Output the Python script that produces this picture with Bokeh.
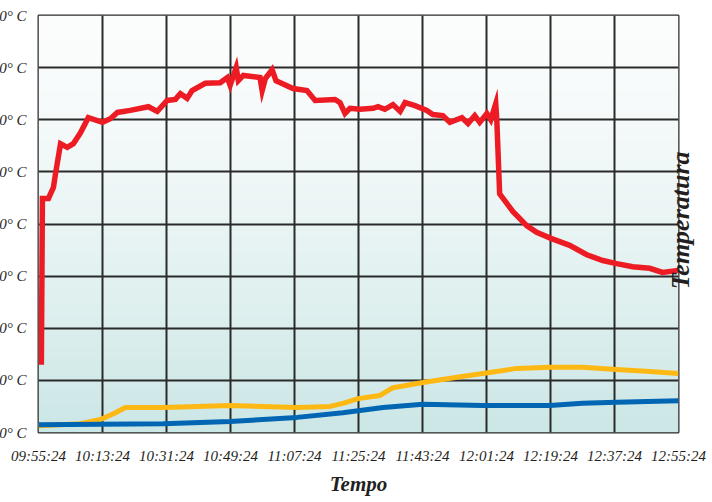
import numpy as np
from bokeh.plotting import figure
from bokeh.models import Range1d, FixedTicker, LinearAxis
from bokeh.embed import file_html
from bokeh.resources import INLINE

# ---- data (minutes after 09:55:24, temperature in °C) ----
x_tick_minutes = [0, 18, 36, 54, 72, 90, 108, 126, 144, 162, 180]
x_tick_labels = ["09:55:24", "10:13:24", "10:31:24", "10:49:24", "11:07:24", "11:25:24",
                 "11:43:24", "12:01:24", "12:19:24", "12:37:24", "12:55:24"]
y_ticks = [0, 100, 200, 300, 400, 500, 600, 700, 800]
y_tick_labels = ["0° C", "100° C", "200° C", "300° C", "400° C", "500° C", "600° C", "700° C", "800° C"]

red_t = [0.8, 1.1, 2.8, 4.2, 4.8, 6.2, 8.1, 9.8, 11.8, 14.0, 18.0, 20.2, 22.2, 25.8, 30.9, 33.4,
         36.2, 38.5, 39.9, 41.8, 43.2, 46.9, 51.1, 53.1, 53.9, 55.6, 56.2, 57.6, 62.3, 62.9, 63.8,
         65.7, 66.8, 71.6, 75.5, 77.8, 83.4, 84.8, 86.2, 87.6, 90.4, 94.1, 95.5, 97.4, 99.7, 101.7,
         103.1, 105.9, 109.2, 110.9, 113.7, 115.7, 119.1, 120.8, 122.7, 124.1, 126.1, 127.2, 128.6,
         128.9, 129.7, 133.4, 137.3, 140.1, 144.3, 149.4, 154.2, 158.7, 162.6, 167.1, 171.9, 175.5,
         180.0]
red_v = [130, 449, 449, 470, 497, 554, 547, 554, 575, 604, 595, 602, 614, 618, 625, 616,
         637, 639, 650, 641, 656, 670, 671, 681, 666, 700, 675, 685, 681, 656, 679,
         696, 675, 660, 656, 637, 639, 633, 612, 622, 620, 622, 625, 620, 629, 616,
         633, 627, 618, 610, 608, 595, 604, 593, 608, 595, 612, 600, 631,
         599, 458, 424, 397, 384, 372, 359, 341, 330, 324, 318, 315, 307,
         311]

orange_t = [0, 11.8, 17.4, 21.1, 24.4, 35.1, 53.9, 72.7, 82.0, 85.6, 89.9, 96.0, 99.7, 108.1,
            117.7, 126.9, 134.5, 143.8, 153.0, 162.6, 171.9, 180.0]
orange_v = [13, 17, 25, 36, 48, 48, 52, 48, 50, 56, 65, 71, 86, 96,
            106, 115, 123, 125, 125, 121, 117, 113]

blue_t = [0, 35.1, 53.9, 72.7, 85.6, 96.9, 108.1, 125.0, 143.8, 153.0, 162.6, 180.0]
blue_v = [15, 17, 21, 29, 38, 48, 54, 52, 52, 56, 58, 61]

FONT = "Liberation Serif"
INK = "#231f20"
GRID = "#2a2a2a"

p = figure(width=754, height=500,
           x_range=Range1d(0, 180), y_range=Range1d(0, 800),
           output_backend="svg", toolbar_location=None,
           min_border_left=80, min_border_right=33, min_border_top=15, min_border_bottom=68)
p.styles = {"margin-left": "-42px"}
p.background_fill_color = None
p.border_fill_color = "white"

# vertical gradient background (white at top -> pale teal at bottom)
n = 240
img = np.empty((n, 1), dtype=np.uint32)
view = img.view(dtype=np.uint8).reshape((n, 1, 4))
top_c = np.array([252, 253, 253])
bot_c = np.array([203, 231, 230])
for i in range(n):
    f = (1 - i / (n - 1)) ** 1.4  # row 0 is the bottom
    c = top_c + (bot_c - top_c) * f
    view[i, 0, 0:3] = c.astype(np.uint8)
    view[i, 0, 3] = 255
bg = p.image_rgba(image=[img], x=0, y=0, dw=180, dh=800)
bg.level = "image"

# grid
p.xgrid.ticker = FixedTicker(ticks=x_tick_minutes)
p.ygrid.ticker = FixedTicker(ticks=y_ticks)
for g in (p.xgrid, p.ygrid):
    g.grid_line_color = GRID
    g.grid_line_width = 2
    g.grid_line_alpha = 1
p.outline_line_color = GRID
p.outline_line_width = 2

# axes
p.xaxis.ticker = FixedTicker(ticks=x_tick_minutes)
p.xaxis.major_label_overrides = {t: l for t, l in zip(x_tick_minutes, x_tick_labels)}
p.yaxis.ticker = FixedTicker(ticks=y_ticks)
p.yaxis.major_label_overrides = {t: l for t, l in zip(y_ticks, y_tick_labels)}

# right-hand axis carrying the rotated "Temperatura" title as its single label
TITLE_ANCHOR = 275
right_axis = LinearAxis(ticker=FixedTicker(ticks=[TITLE_ANCHOR]),
                        major_label_overrides={TITLE_ANCHOR: "Temperatura"})
p.add_layout(right_axis, "right")

for ax in (p.xaxis[0], p.yaxis[0], right_axis):
    ax.axis_line_color = None
    ax.major_tick_line_color = None
    ax.minor_tick_line_color = None
    ax.major_tick_out = 0
    ax.major_tick_in = 0
    ax.major_label_text_font = FONT
    ax.major_label_text_font_style = "italic"
    ax.major_label_text_font_size = "15px"
    ax.major_label_text_color = INK
    ax.axis_label_text_font = FONT
    ax.axis_label_text_font_style = "bold italic"
    ax.axis_label_text_color = INK
p.xaxis.major_label_standoff = 15
p.yaxis.major_label_standoff = 12

p.xaxis.axis_label = "Tempo"
p.xaxis.axis_label_text_font_size = "21px"
p.xaxis.axis_label_standoff = 5

right_axis.major_label_text_font_style = "bold italic"
right_axis.major_label_text_font_size = "26px"
right_axis.major_label_standoff = 2
right_axis.major_label_orientation = np.pi / 2

# series
p.line(orange_t, orange_v, line_color="#fdb813", line_width=5, line_join="round")
p.line(blue_t, blue_v, line_color="#0065b2", line_width=5, line_join="round")
p.line(red_t, red_v, line_color="#ed1c24", line_width=5.5, line_join="miter")

open("out.html", "w").write(file_html(p, INLINE))
